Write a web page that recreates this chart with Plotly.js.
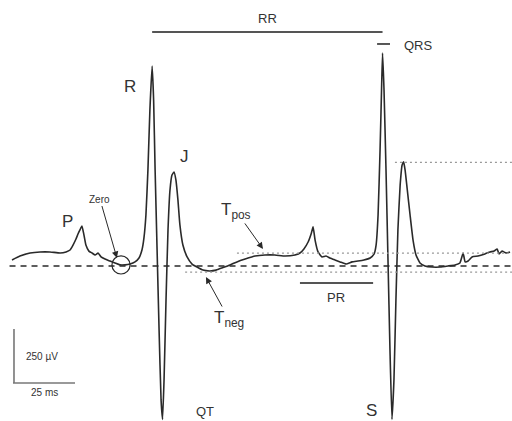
<!DOCTYPE html>
<html><head><meta charset="utf-8">
<script src="https://cdn.plot.ly/plotly-3.0.1.min.js"></script>
<style>html,body{margin:0;padding:0;background:#fff}#c{width:512px;height:421px}</style>
</head><body><div id="c"></div>
<script>
// ECG trace: time (ms) and amplitude (µV), baseline = 0 µV
const timeMs = [0,3.2,7.3,11.3,15.3,19.4,21.8,23.4,24.6,25.8,26.6,27.4,28.2,29.0,29.8,31.0,32.3,33.5,34.7,35.9,37.5,39.5,41.5,43.5,45.6,47.6,49.6,51.2,52.4,53.2,54.0,54.8,55.6,56.5,57.1,57.7,58.5,59.3,60.1,60.7,61.3,62.1,62.9,63.7,64.5,65.3,66.1,66.9,67.7,68.9,70.6,72.6,74.6,77.0,79.8,82.3,84.7,87.9,90.7,94.0,98.0,102.0,106.0,110.1,114.1,116.1,117.7,119.4,120.6,121.4,122.2,123.4,125.0,126.6,128.2,130.2,132.3,134.7,137.1,139.5,141.9,144.4,146.0,146.8,147.6,148.4,149.0,149.4,150.0,150.8,151.6,152.4,153.2,154.0,154.8,155.6,156.5,157.3,157.9,158.5,159.3,160.5,161.7,162.9,164.5,166.5,169.4,172.6,175.8,178.6,180.6,181.9,182.7,183.9,185.5,187.9,190.7,192.7,194.4,195.6,196.4,197.6,199.2,200.8];
const ampUv = [28,46,60,65,65,60,65,74,97,125,148,167,185,144,97,69,60,51,60,42,32,23,14,5,5,9,19,37,74,130,236,444,722,926,769,444,74,-296,-620,-710,-528,-157,167,352,421,435,398,306,190,97,42,9,-5,-19,-23,-19,-9,5,19,32,46,51,51,46,51,60,79,111,148,181,120,65,42,46,37,28,19,9,19,23,28,37,56,97,236,537,815,986,815,444,28,-389,-710,-528,-157,167,375,468,482,444,361,236,120,51,14,0,-5,-5,0,5,14,60,19,23,42,46,56,65,69,79,56,69,60,65];

// Reference levels (µV)
const baselineUv = 0, tposLevelUv = 60, tnegLevelUv = -28, tPeakLevelUv = 480;
// Interval markers (ms)
const rPeaks = [56.5, 149.4];
const qrsInterval = [147.2, 152.4];
const prInterval = [116.1, 145.6];
// Scale bar
const scaleUv = 250, scaleMs = 25;

const ink = '#2a2a2a', txt = '#333';
const F = 'Liberation Sans, Arial, sans-serif';

const shapes = [
  {type:'line', x0:-1, x1:202, y0:baselineUv, y1:baselineUv, line:{color:ink, width:1.6, dash:'6px,5px'}},
  {type:'line', x0:90.7, x1:202, y0:tposLevelUv, y1:tposLevelUv, line:{color:'#999', width:1.3, dash:'2px,3px'}},
  {type:'line', x0:69.8, x1:202, y0:tnegLevelUv, y1:tnegLevelUv, line:{color:'#999', width:1.3, dash:'2px,3px'}},
  {type:'line', x0:154.4, x1:202, y0:tPeakLevelUv, y1:tPeakLevelUv, line:{color:'#999', width:1.3, dash:'2px,3px'}},
  {type:'line', x0:rPeaks[0], x1:rPeaks[1], y0:1083, y1:1083, line:{color:'#555', width:2}},
  {type:'line', x0:qrsInterval[0], x1:qrsInterval[1], y0:1028, y1:1028, line:{color:'#555', width:2}},
  {type:'line', x0:prInterval[0], x1:prInterval[1], y0:-79, y1:-79, line:{color:'#555', width:2}},
  {type:'circle', x0:40.3, x1:47.6, y0:-37, y1:47, line:{color:ink, width:1.2}},
  {type:'line', x0:0.8, x1:0.8, y0:-542+scaleUv, y1:-542, line:{color:'#777', width:1.6}},
  {type:'line', x0:0.4, x1:0.4+scaleMs, y0:-542, y1:-542, line:{color:'#777', width:1.6}}
];

function lab(t, x, y, size){ return {text:t, x:x, y:y, showarrow:false, font:{family:F, size:size, color:txt}}; }
function arrLab(t, size, x, y, ax, ay){ return {text:t, x:x, y:y, ax:ax, ay:ay, showarrow:true, arrowhead:2, arrowsize:1.3, arrowwidth:1, arrowcolor:ink, standoff:0, font:{family:F, size:size, color:txt}}; }

const annotations = [
  lab('RR', 103.2, 1148, 13),
  lab('QRS', 164.1, 1023, 13),
  lab('R', 47.6, 829, 17),
  lab('J', 69.4, 505, 17),
  lab('P', 22.2, 204, 17),
  arrLab('Zero', 10, 42.3, 37, -17, -59),
  arrLab('T<sub>pos</sub>', 17, 101.2, 79, -27, -38),
  arrLab('T<sub>neg</sub>', 17, 78.2, -51, 23, 42),
  lab('PR', 130.6, -144, 13),
  lab('QT', 77.8, -676, 13),
  lab('S', 144.8, -667, 17),
  lab(scaleUv + ' µV', 12.1, -417, 10),
  lab(scaleMs + ' ms', 12.9, -588, 10)
];

Plotly.newPlot('c', [{
  x: timeMs, y: ampUv, type:'scatter', mode:'lines',
  line:{color:ink, width:1.6, shape:'spline', smoothing:0.4}, hoverinfo:'skip'
}], {
  width:512, height:421, margin:{l:0, r:0, t:0, b:0},
  paper_bgcolor:'#fff', plot_bgcolor:'#fff', showlegend:false,
  xaxis:{range:[-4.84, 201.6], visible:false, fixedrange:true},
  yaxis:{range:[-717.7, 1231.6], visible:false, fixedrange:true},
  shapes: shapes, annotations: annotations
}, {staticPlot:true});
</script></body></html>
